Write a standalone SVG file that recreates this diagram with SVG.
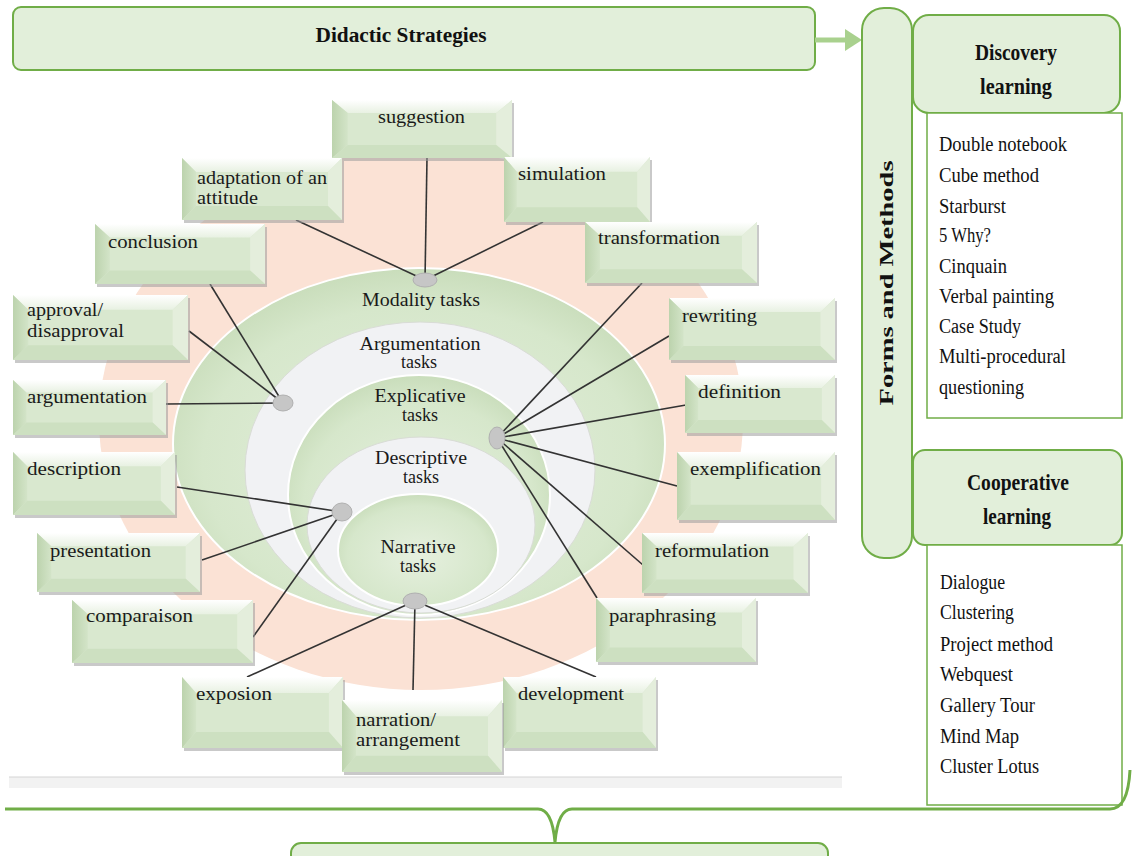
<svg xmlns="http://www.w3.org/2000/svg" xmlns:xlink="http://www.w3.org/1999/xlink" width="1133" height="856" viewBox="0 0 1133 856">
<style>
.hdr{fill:#e2efda;stroke:#70ad47;stroke-width:2}
.lst{fill:#ffffff;stroke:#70ad47;stroke-width:1.5}
.ht{font-family:"Liberation Serif",serif;font-weight:bold;fill:#111;text-anchor:middle}
.li{font-family:"Liberation Serif",serif;font-size:20px;fill:#111}
.bt{font-family:"Liberation Serif",serif;font-size:18px;fill:#1a1a1a}
.et{font-family:"Liberation Serif",serif;font-size:18px;fill:#1a1a1a;text-anchor:middle}
.sh{fill:#9c9c9c;opacity:.55}
.conn line{stroke:#333;stroke-width:1.6}
.hub{fill:#c6c6c6;stroke:#b0b0b0;stroke-width:1}
.gel{fill:url(#gGreen);stroke:#ffffff;stroke-width:2}
.wel{fill:#f1f2f4;stroke:#d9dcd6;stroke-width:1}
</style>
<defs>
<linearGradient id="gTop" x1="0" y1="0" x2="0" y2="1"><stop offset="0" stop-color="#ffffff"/><stop offset="1" stop-color="#e8f1e2"/></linearGradient>
<linearGradient id="gLeft" x1="0" y1="0" x2="1" y2="0"><stop offset="0" stop-color="#bcd3ad"/><stop offset="1" stop-color="#d3e4c8"/></linearGradient>
<radialGradient id="gGreen" cx="0.5" cy="0.55" r="0.55"><stop offset="0" stop-color="#e6f0df"/><stop offset="0.8" stop-color="#d6e7cb"/><stop offset="1" stop-color="#c9ddbb"/></radialGradient>
<symbol id="bev" viewBox="0 0 160 62" preserveAspectRatio="none">
<rect x="0" y="0" width="160" height="62" fill="#d9e8cf"/>
<polygon points="0,0 160,0 146,14 14,14" fill="url(#gTop)"/>
<polygon points="0,0 14,14 14,48 0,62" fill="url(#gLeft)"/>
<polygon points="160,0 160,62 146,48 146,14" fill="#e4eedc"/>
<polygon points="0,62 14,48 146,48 160,62" fill="#cde0c1"/>
</symbol>
</defs>
<rect width="1133" height="856" fill="#ffffff"/>

<g id="header">
<rect class="hdr" x="13" y="7" width="802" height="63" rx="8"/>
<text class="ht" x="401" y="42" font-size="20" textLength="171" lengthAdjust="spacingAndGlyphs">Didactic Strategies</text>
</g>
<g id="arrow">
<line x1="815" y1="40" x2="848" y2="40" stroke="#a9d18e" stroke-width="5"/>
<polygon points="845,29 862,40 845,51" fill="#a9d18e"/>
</g>

<g id="forms">
<rect class="hdr" x="862" y="8" width="50" height="550" rx="22"/>
<text class="ht" transform="translate(893,283) rotate(-90)" font-size="19" textLength="245" lengthAdjust="spacingAndGlyphs">Forms and Methods</text>
</g>

<g id="discovery">
<rect class="hdr" x="913" y="15" width="207" height="98" rx="16"/>
<text class="ht" x="1016" y="60" font-size="24" textLength="82" lengthAdjust="spacingAndGlyphs">Discovery</text>
<text class="ht" x="1016" y="94" font-size="24" textLength="72" lengthAdjust="spacingAndGlyphs">learning</text>
</g>
<g id="discovery-list">
<rect class="lst" x="927" y="113" width="195" height="305"/>
<text class="li" x="939" y="151" textLength="128" lengthAdjust="spacingAndGlyphs">Double notebook</text>
<text class="li" x="939" y="182" textLength="100" lengthAdjust="spacingAndGlyphs">Cube method</text>
<text class="li" x="939" y="213" textLength="67" lengthAdjust="spacingAndGlyphs">Starburst</text>
<text class="li" x="939" y="242" textLength="52" lengthAdjust="spacingAndGlyphs">5 Why?</text>
<text class="li" x="939" y="273" textLength="68" lengthAdjust="spacingAndGlyphs">Cinquain</text>
<text class="li" x="939" y="303" textLength="115" lengthAdjust="spacingAndGlyphs">Verbal painting</text>
<text class="li" x="939" y="333" textLength="82" lengthAdjust="spacingAndGlyphs">Case Study</text>
<text class="li" x="939" y="363" textLength="127" lengthAdjust="spacingAndGlyphs">Multi-procedural</text>
<text class="li" x="939" y="394" textLength="85" lengthAdjust="spacingAndGlyphs">questioning</text>
</g>

<g id="cooperative">
<rect class="hdr" x="913" y="450" width="209" height="95" rx="12"/>
<text class="ht" x="1018" y="490" font-size="24" textLength="102" lengthAdjust="spacingAndGlyphs">Cooperative</text>
<text class="ht" x="1017" y="524" font-size="24" textLength="68" lengthAdjust="spacingAndGlyphs">learning</text>
</g>
<g id="cooperative-list">
<rect class="lst" x="927" y="545" width="195" height="260"/>
<text class="li" x="940" y="589" textLength="65" lengthAdjust="spacingAndGlyphs">Dialogue</text>
<text class="li" x="940" y="619" textLength="74" lengthAdjust="spacingAndGlyphs">Clustering</text>
<text class="li" x="940" y="651" textLength="113" lengthAdjust="spacingAndGlyphs">Project method</text>
<text class="li" x="940" y="681" textLength="73" lengthAdjust="spacingAndGlyphs">Webquest</text>
<text class="li" x="940" y="712" textLength="95" lengthAdjust="spacingAndGlyphs">Gallery Tour</text>
<text class="li" x="940" y="743" textLength="79" lengthAdjust="spacingAndGlyphs">Mind Map</text>
<text class="li" x="940" y="773" textLength="99" lengthAdjust="spacingAndGlyphs">Cluster Lotus</text>
</g>

<g id="band">
<rect x="9" y="777" width="833" height="11" fill="#f2f2f2"/>
<line x1="9" y1="777" x2="842" y2="777" stroke="#d4d4d4" stroke-width="1"/>
</g>

<g id="brace">
<path d="M5,809 H538 Q552,809 555,842 Q558,809 572,809 H1110 Q1128,809 1130,770" fill="none" stroke="#70ad47" stroke-width="3"/>
</g>
<g id="bottom-box">
<rect class="hdr" x="291" y="843" width="537" height="40" rx="10"/>
</g>

<g id="ring-pink"><ellipse cx="421" cy="420" rx="322" ry="270" fill="#fbe2d5"/></g>
<g id="modality">
<ellipse class="gel" cx="419" cy="444" rx="246" ry="176"/>
<text class="et" x="421" y="306" textLength="118" lengthAdjust="spacingAndGlyphs">Modality tasks</text>
</g>
<g id="argumentation-tasks">
<ellipse class="wel" cx="420" cy="470" rx="175" ry="148"/>
<text class="et" x="420" y="350" textLength="121" lengthAdjust="spacingAndGlyphs">Argumentation</text>
<text class="et" x="419" y="368">tasks</text>
</g>
<g id="explicative">
<ellipse class="gel" cx="419" cy="495" rx="131" ry="120"/>
<text class="et" x="420" y="402" textLength="91" lengthAdjust="spacingAndGlyphs">Explicative</text>
<text class="et" x="420" y="421">tasks</text>
</g>
<g id="descriptive">
<ellipse class="wel" cx="421" cy="525" rx="114" ry="88"/>
<text class="et" x="421" y="464" textLength="92" lengthAdjust="spacingAndGlyphs">Descriptive</text>
<text class="et" x="421" y="483">tasks</text>
</g>
<g id="narrative">
<ellipse class="gel" cx="418" cy="550" rx="80" ry="56"/>
<text class="et" x="418" y="553" textLength="75" lengthAdjust="spacingAndGlyphs">Narrative</text>
<text class="et" x="418" y="572">tasks</text>
</g>

<g id="connectors" class="conn">
<line x1="425" y1="280" x2="427" y2="158"/>
<line x1="425" y1="280" x2="296" y2="220"/>
<line x1="425" y1="280" x2="543" y2="222"/>
<line x1="283" y1="403" x2="210" y2="284"/>
<line x1="283" y1="403" x2="189" y2="331"/>
<line x1="283" y1="403" x2="166" y2="404"/>
<line x1="497" y1="438" x2="642" y2="283"/>
<line x1="497" y1="438" x2="669" y2="336"/>
<line x1="497" y1="438" x2="686" y2="405"/>
<line x1="497" y1="438" x2="677" y2="486"/>
<line x1="497" y1="438" x2="643" y2="565"/>
<line x1="497" y1="438" x2="597" y2="598"/>
<line x1="342" y1="512" x2="177" y2="487"/>
<line x1="342" y1="512" x2="202" y2="560"/>
<line x1="342" y1="512" x2="253" y2="637"/>
<line x1="415" y1="601" x2="247" y2="677"/>
<line x1="415" y1="601" x2="413" y2="690"/>
<line x1="415" y1="601" x2="596" y2="677"/>
</g>
<g id="hubs">
<ellipse class="hub" cx="425" cy="280" rx="12" ry="7"/>
<ellipse class="hub" cx="283" cy="403" rx="10" ry="8"/>
<ellipse class="hub" cx="497" cy="438" rx="8" ry="11"/>
<ellipse class="hub" cx="342" cy="512" rx="10" ry="9"/>
<ellipse class="hub" cx="415" cy="601" rx="12" ry="8"/>
</g>

<g id="n-suggestion"><rect class="sh" x="334" y="103" width="180" height="58"/><use xlink:href="#bev" href="#bev" x="332" y="100" width="180" height="58"/><text class="bt" x="378" y="123" textLength="87" lengthAdjust="spacingAndGlyphs">suggestion</text></g>
<g id="n-adaptation"><rect class="sh" x="184" y="161" width="160" height="62"/><use xlink:href="#bev" href="#bev" x="182" y="158" width="160" height="62"/><text class="bt" x="197" y="184" textLength="130" lengthAdjust="spacingAndGlyphs">adaptation of an</text><text class="bt" x="197" y="204" textLength="61" lengthAdjust="spacingAndGlyphs">attitude</text></g>
<g id="n-simulation"><rect class="sh" x="506" y="160" width="146" height="65"/><use xlink:href="#bev" href="#bev" x="504" y="157" width="146" height="65"/><text class="bt" x="518" y="180" textLength="88" lengthAdjust="spacingAndGlyphs">simulation</text></g>
<g id="n-conclusion"><rect class="sh" x="97" y="227" width="170" height="60"/><use xlink:href="#bev" href="#bev" x="95" y="224" width="170" height="60"/><text class="bt" x="108" y="248" textLength="90" lengthAdjust="spacingAndGlyphs">conclusion</text></g>
<g id="n-transformation"><rect class="sh" x="587" y="225" width="172" height="61"/><use xlink:href="#bev" href="#bev" x="585" y="222" width="172" height="61"/><text class="bt" x="598" y="244" textLength="122" lengthAdjust="spacingAndGlyphs">transformation</text></g>
<g id="n-approval"><rect class="sh" x="15" y="298" width="175" height="65"/><use xlink:href="#bev" href="#bev" x="13" y="295" width="175" height="65"/><text class="bt" x="27" y="316" textLength="76" lengthAdjust="spacingAndGlyphs">approval/</text><text class="bt" x="27" y="337" textLength="97" lengthAdjust="spacingAndGlyphs">disapproval</text></g>
<g id="n-rewriting"><rect class="sh" x="671" y="301" width="166" height="62"/><use xlink:href="#bev" href="#bev" x="669" y="298" width="166" height="62"/><text class="bt" x="682" y="322" textLength="75" lengthAdjust="spacingAndGlyphs">rewriting</text></g>
<g id="n-argumentation"><rect class="sh" x="15" y="383" width="153" height="55"/><use xlink:href="#bev" href="#bev" x="13" y="380" width="153" height="55"/><text class="bt" x="27" y="403" textLength="120" lengthAdjust="spacingAndGlyphs">argumentation</text></g>
<g id="n-definition"><rect class="sh" x="687" y="378" width="150" height="58"/><use xlink:href="#bev" href="#bev" x="685" y="375" width="150" height="58"/><text class="bt" x="698" y="398" textLength="83" lengthAdjust="spacingAndGlyphs">definition</text></g>
<g id="n-description"><rect class="sh" x="15" y="455" width="162" height="63"/><use xlink:href="#bev" href="#bev" x="13" y="452" width="162" height="63"/><text class="bt" x="27" y="475" textLength="94" lengthAdjust="spacingAndGlyphs">description</text></g>
<g id="n-exemplification"><rect class="sh" x="679" y="455" width="158" height="68"/><use xlink:href="#bev" href="#bev" x="677" y="452" width="158" height="68"/><text class="bt" x="690" y="475" textLength="131" lengthAdjust="spacingAndGlyphs">exemplification</text></g>
<g id="n-presentation"><rect class="sh" x="39" y="536" width="163" height="59"/><use xlink:href="#bev" href="#bev" x="37" y="533" width="163" height="59"/><text class="bt" x="50" y="557" textLength="101" lengthAdjust="spacingAndGlyphs">presentation</text></g>
<g id="n-reformulation"><rect class="sh" x="644" y="536" width="166" height="60"/><use xlink:href="#bev" href="#bev" x="642" y="533" width="166" height="60"/><text class="bt" x="655" y="557" textLength="114" lengthAdjust="spacingAndGlyphs">reformulation</text></g>
<g id="n-comparaison"><rect class="sh" x="74" y="603" width="181" height="63"/><use xlink:href="#bev" href="#bev" x="72" y="600" width="181" height="63"/><text class="bt" x="86" y="622" textLength="107" lengthAdjust="spacingAndGlyphs">comparaison</text></g>
<g id="n-paraphrasing"><rect class="sh" x="598" y="601" width="160" height="64"/><use xlink:href="#bev" href="#bev" x="596" y="598" width="160" height="64"/><text class="bt" x="609" y="622" textLength="107" lengthAdjust="spacingAndGlyphs">paraphrasing</text></g>
<g id="n-exposion"><rect class="sh" x="184" y="680" width="161" height="71"/><use xlink:href="#bev" href="#bev" x="182" y="677" width="161" height="71"/><text class="bt" x="196" y="700" textLength="76" lengthAdjust="spacingAndGlyphs">exposion</text></g>
<g id="n-development"><rect class="sh" x="505" y="680" width="153" height="71"/><use xlink:href="#bev" href="#bev" x="503" y="677" width="153" height="71"/><text class="bt" x="518" y="700" textLength="106" lengthAdjust="spacingAndGlyphs">development</text></g>
<g id="n-narration"><rect class="sh" x="344" y="703" width="160" height="72"/><use xlink:href="#bev" href="#bev" x="342" y="700" width="160" height="72"/><text class="bt" x="356" y="726" textLength="80" lengthAdjust="spacingAndGlyphs">narration/</text><text class="bt" x="356" y="746" textLength="104" lengthAdjust="spacingAndGlyphs">arrangement</text></g>
</svg>
